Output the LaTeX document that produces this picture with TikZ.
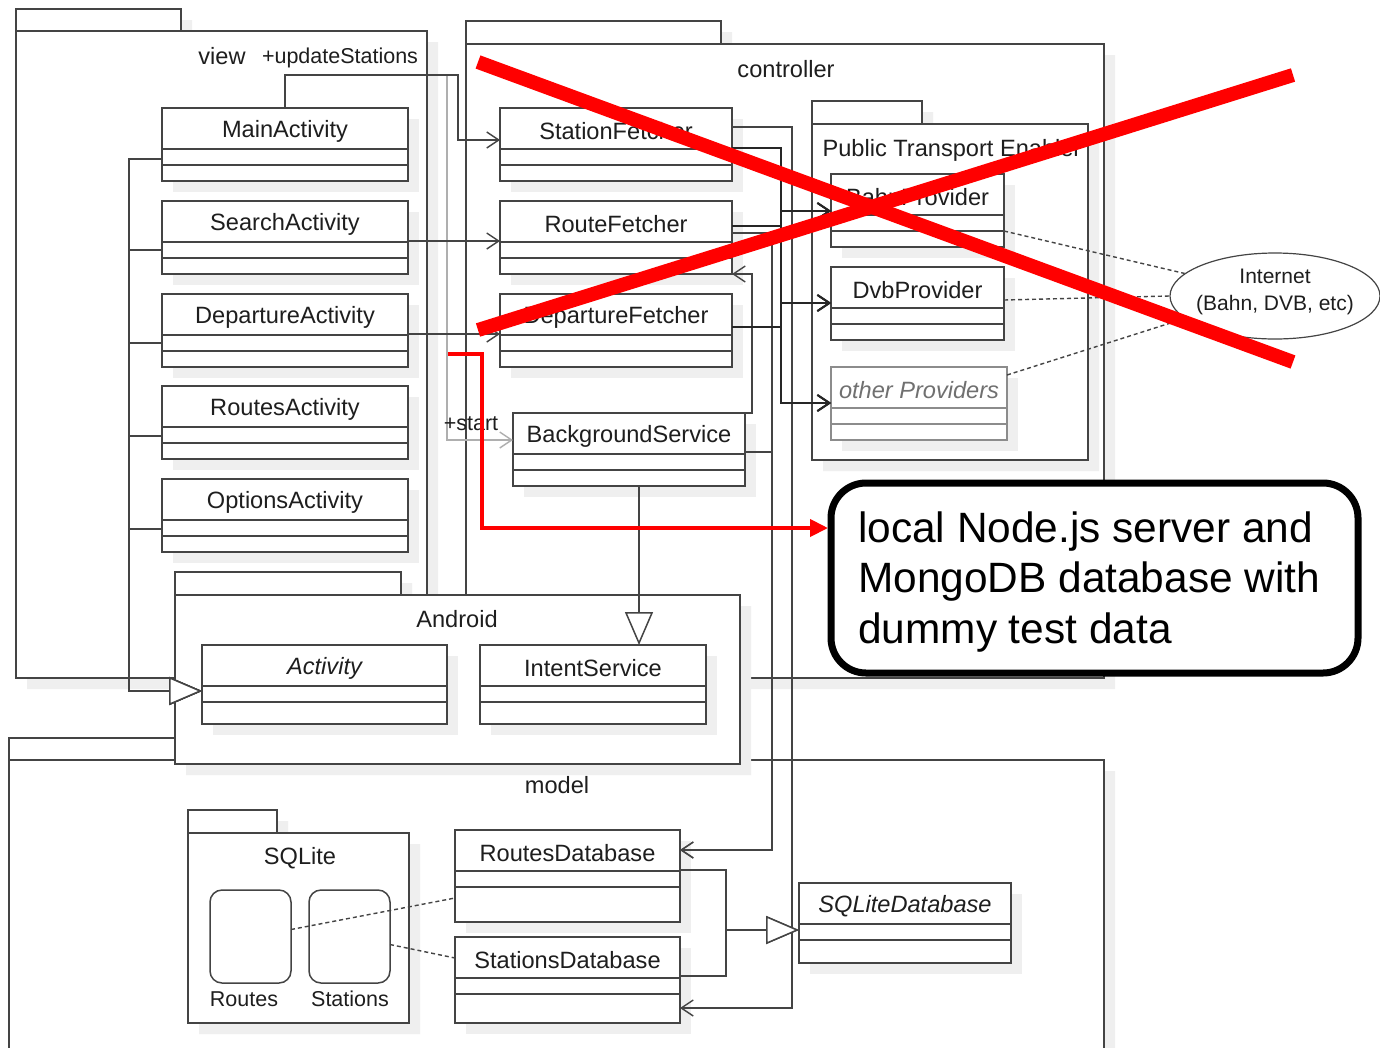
\documentclass[tikz,border=0pt]{standalone}
\usepackage{fontspec}
\setmainfont{Liberation Sans}
\usetikzlibrary{arrows.meta,calc,shapes.geometric}

\definecolor{umlline}{HTML}{444444}
\definecolor{umltext}{HTML}{1E1E1E}
\definecolor{umlshade}{HTML}{EFEFEF}
\definecolor{umlfaded}{HTML}{8C8C8C}

% class box with empty attribute and operation compartments
\newcommand{\umlclass}[6][]{%
  \fill[class shadow] ($(#3)+(11,11)$) rectangle ++(#4,#5);
  \node[class box,minimum width=#4pt,minimum height=#5pt] (#2) at (#3) {};
  \node[class name,#1] (#2 name) at ($(#2.north)+(0,23.5)$) {#6};
  \draw[class rule] ($(#2.north west)+(0,41)$) -- ($(#2.north east)+(0,41)$)
    ($(#2.north west)+(0,57)$) -- ($(#2.north east)+(0,57)$);
}

\begin{document}
\begin{tikzpicture}[
    x=1pt,y=-1pt,
    font=\fontsize{23.6}{28}\selectfont,
    class shadow/.style={fill=umlshade},
    class box/.style={draw=umlline,fill=white,line width=1.5pt,anchor=north west,inner sep=0pt,outer sep=0pt},
    class rule/.style={draw=umlline,line width=1.5pt},
    class name/.style={text=umltext},
    package/.style={draw=umlline,fill=white,line width=1.5pt},
    package label/.style={text=umltext},
    small label/.style={text=umltext,font=\fontsize{21.5}{26}\selectfont},
    table box/.style={draw=umlline,line width=1.5pt,rounded corners=12pt,minimum width=81pt,
      minimum height=93pt,anchor=north west,inner sep=0pt,outer sep=0pt},
    assoc/.style={draw=umlline,line width=1.4pt,-{Straight Barb[length=12pt,width=16pt]}},
    bus link/.style={assoc,draw=black!85,line width=1.8pt},
    generalize/.style={draw=umlline,line width=1.5pt,-{Triangle[length=33pt,width=28pt,fill=white]}},
    web link/.style={draw=umlline,line width=1.4pt,dash pattern=on 4pt off 3pt},
    red cross/.style={draw=red,line width=14pt},
    red link/.style={draw=red,line width=4pt,-{Triangle[length=18pt,width=17pt]}},
    callout box/.style={draw=black,line width=7pt,rounded corners=35pt,fill=white,
      inner sep=0pt,outer sep=0pt,anchor=north west,minimum width=527pt,minimum height=190pt},
    callout text/.style={anchor=west,align=left,inner sep=0pt,text=black,
      font=\fontsize{42.4}{50.5}\selectfont}
  ]
  \useasboundingbox (0,0) rectangle (1380,1047);

  % packages
  \fill[class shadow] (27,20) rectangle (192,42) (27,42) rectangle (438,689);
  \draw[package] (16,9) rectangle (181,31);
  \draw[package] (16,31) rectangle (427,678);
  \node[package label] (view title) at (222,56) {view};
  \node[small label] (update label) at (340,58) {+updateStations};

  \fill[class shadow] (477,32) rectangle (732,55) (477,55) rectangle (1115,689);
  \draw[package] (466,21) rectangle (721,44);
  \draw[package] (466,44) rectangle (1104,678);
  \node[package label] (controller title) at (786,69) {controller};

  \fill[class shadow] (20,749) rectangle (186,771) (20,771) rectangle (1115,1060);
  \draw[package] (9,738) rectangle (175,760);
  \draw[package] (9,760) rectangle (1104,1060);
  \node[package label] (model title) at (557,785) {model};

  \fill[class shadow] (823,112) rectangle (933,135) (823,135) rectangle (1099,471);
  \draw[package] (812,101) rectangle (922,124);
  \draw[package] (812,124) rectangle (1088,460);
  \node[package label,anchor=west] (pte title) at (819,150) {Public Transport Enabler};

  \fill[class shadow] (186,583) rectangle (412,606) (186,606) rectangle (751,775);
  \draw[package] (175,572) rectangle (401,595);
  \draw[package] (175,595) rectangle (740,764);
  \node[package label] (android title) at (457,619) {Android};

  \fill[class shadow] (199,821) rectangle (288,844) (199,844) rectangle (420,1034);
  \draw[package] (188,810) rectangle (277,833);
  \draw[package] (188,833) rectangle (409,1023);
  \node[package label] (sqlite title) at (300,858) {SQLite};
  \node[table box] (routes table) at (210,890) {};
  \node[table box] (stations table) at (309,890) {};
  \node[small label] (routes label) at (244,999) {Routes};
  \node[small label] (stations label) at (350,999) {Stations};

  % classes
  \umlclass{MainActivity}{162,108}{246}{73}{MainActivity}
  \umlclass{SearchActivity}{162,201}{246}{73}{SearchActivity}
  \umlclass{DepartureActivity}{162,294}{246}{73}{DepartureActivity}
  \umlclass{RoutesActivity}{162,386}{246}{73}{RoutesActivity}
  \umlclass{OptionsActivity}{162,479}{246}{73}{OptionsActivity}
  \umlclass{StationFetcher}{500,108}{232}{73}{StationFetcher}
  \umlclass{RouteFetcher}{500,201}{232}{73}{RouteFetcher}
  \umlclass{DepartureFetcher}{500,294}{232}{73}{DepartureFetcher}
  \umlclass{BackgroundService}{513,413}{232}{73}{BackgroundService}
  \umlclass{BahnProvider}{831,174}{173}{73}{BahnProvider}
  \umlclass{DvbProvider}{831,267}{173}{73}{DvbProvider}
  \begin{scope}[class box/.append style={draw=umlfaded},class rule/.append style={draw=umlfaded}]
    \umlclass[font=\fontsize{23.6}{28}\selectfont\itshape,text=umlfaded!80!black]{otherProviders}{831,367}{176}{73}{other Providers}
  \end{scope}
  \umlclass[font=\fontsize{23.6}{28}\selectfont\itshape]{Activity}{202,645}{245}{79}{Activity}
  \umlclass{IntentService}{480,645}{226}{79}{IntentService}
  \umlclass{RoutesDatabase}{455,830}{225}{92}{RoutesDatabase}
  \umlclass{StationsDatabase}{455,937}{225}{86}{StationsDatabase}
  \umlclass[font=\fontsize{23.6}{28}\selectfont\itshape]{SQLiteDatabase}{799,883}{212}{80}{SQLiteDatabase}

  % associations
  \draw[assoc,draw=umlfaded!70] (MainActivity.north) -- ++(0,-33) -| ($(BackgroundService.north west)+(-66,27)$) -- ($(BackgroundService.north west)+(0,27)$);
  \node[small label] (start label) at (471,424) {+start};
  \draw[assoc] (MainActivity.north) -- ++(0,-33) -| ($(StationFetcher.north west)+(-42,32)$) -- ($(StationFetcher.north west)+(0,32)$);
  \draw[assoc] ($(SearchActivity.north east)+(0,40)$) -- ($(RouteFetcher.north west)+(0,40)$);
  \draw[assoc] ($(DepartureActivity.north east)+(0,40)$) -- ($(DepartureFetcher.north west)+(0,40)$);
  \draw[assoc] ($(StationFetcher.north east)+(0,19)$) -- ++(60,0) |- ($(StationsDatabase.north east)+(0,71)$);
  \draw[assoc] ($(RouteFetcher.north east)+(0,32)$) -- ++(40,0) |- ($(RoutesDatabase.north east)+(0,20)$);
  \draw[assoc] ($(BackgroundService.north east)+(0,39)$) -- ++(27,0) |- ($(RoutesDatabase.north east)+(0,20)$);
  \draw[assoc] (BackgroundService.north east) -- ++(7,0) |- (RouteFetcher.south east);

  % fetchers use every provider
  \draw[bus link] ($(StationFetcher.north east)+(0,40)$) -- ++(49,0) |- ($(BahnProvider.north west)+(0,37)$);
  \draw[bus link] ($(StationFetcher.north east)+(0,40)$) -- ++(49,0) |- ($(DvbProvider.north west)+(0,36)$);
  \draw[bus link] ($(StationFetcher.north east)+(0,40)$) -- ++(49,0) |- ($(otherProviders.north west)+(0,36)$);
  \draw[bus link] ($(RouteFetcher.north east)+(0,25)$) -- ++(49,0) |- ($(BahnProvider.north west)+(0,37)$);
  \draw[bus link] ($(RouteFetcher.north east)+(0,25)$) -- ++(49,0) |- ($(DvbProvider.north west)+(0,36)$);
  \draw[bus link] ($(RouteFetcher.north east)+(0,25)$) -- ++(49,0) |- ($(otherProviders.north west)+(0,36)$);
  \draw[bus link] ($(DepartureFetcher.north east)+(0,33)$) -- ++(49,0) |- ($(BahnProvider.north west)+(0,37)$);
  \draw[bus link] ($(DepartureFetcher.north east)+(0,33)$) -- ++(49,0) |- ($(DvbProvider.north west)+(0,36)$);
  \draw[bus link] ($(DepartureFetcher.north east)+(0,33)$) -- ++(49,0) |- ($(otherProviders.north west)+(0,36)$);

  % generalizations
  \draw[generalize] ($(MainActivity.north west)+(0,51)$) -- ++(-33,0) |- ($(Activity.north west)+(0,46)$);
  \draw[generalize] ($(SearchActivity.north west)+(0,49)$) -- ++(-33,0) |- ($(Activity.north west)+(0,46)$);
  \draw[generalize] ($(DepartureActivity.north west)+(0,49)$) -- ++(-33,0) |- ($(Activity.north west)+(0,46)$);
  \draw[generalize] ($(RoutesActivity.north west)+(0,50)$) -- ++(-33,0) |- ($(Activity.north west)+(0,46)$);
  \draw[generalize] ($(OptionsActivity.north west)+(0,50)$) -- ++(-33,0) |- ($(Activity.north west)+(0,46)$);
  \coordinate (service drop) at ($(BackgroundService.south west)+(126,0)$);
  \draw[generalize] (service drop) -- (service drop |- IntentService.north);
  \draw[generalize] ($(RoutesDatabase.north east)+(0,40)$) -- ++(46,0) |- ($(SQLiteDatabase.north west)+(0,47)$);
  \draw[generalize] ($(StationsDatabase.north east)+(0,39)$) -- ++(46,0) |- ($(SQLiteDatabase.north west)+(0,47)$);

  % data sources
  \node[ellipse,draw=umlline,fill=white,line width=1.2pt,minimum width=210pt,minimum height=86pt,
    inner sep=0pt] (Internet) at (1275,296) {};
  \node[align=center,text=umltext,inner sep=0pt,font=\fontsize{21}{27}\selectfont] (internet text) at (1275,292) {Internet\\(Bahn, DVB, etc)};
  \draw[web link] ($(BahnProvider.north east)+(0,57)$) -- (Internet.166);
  \draw[web link] ($(DvbProvider.north east)+(0,33)$) -- (Internet.west);
  \draw[web link] ($(otherProviders.north east)+(0,8)$) -- (Internet.194);
  \draw[web link] ($(routes table.east)+(0,-7)$) -- ($(RoutesDatabase.north west)+(0,68)$);
  \draw[web link] ($(stations table.east)+(0,8)$) -- ($(StationsDatabase.north west)+(0,21)$);

  % replaced by the test server
  \draw[red cross] (478,62) -- (1293,362);
  \draw[red cross] (478,330) -- (1293,75);
  \node[callout box] (callout) at (831,483) {};
  \node[callout text] (callout note) at (858,582) {local Node.js server and\\MongoDB database with\\dummy test data};
  \coordinate (red start) at (448,354);
  \draw[red link] (red start) -- ++(34,0) |- ($(callout.north west)+(-3,45)$);
\end{tikzpicture}
\end{document}
